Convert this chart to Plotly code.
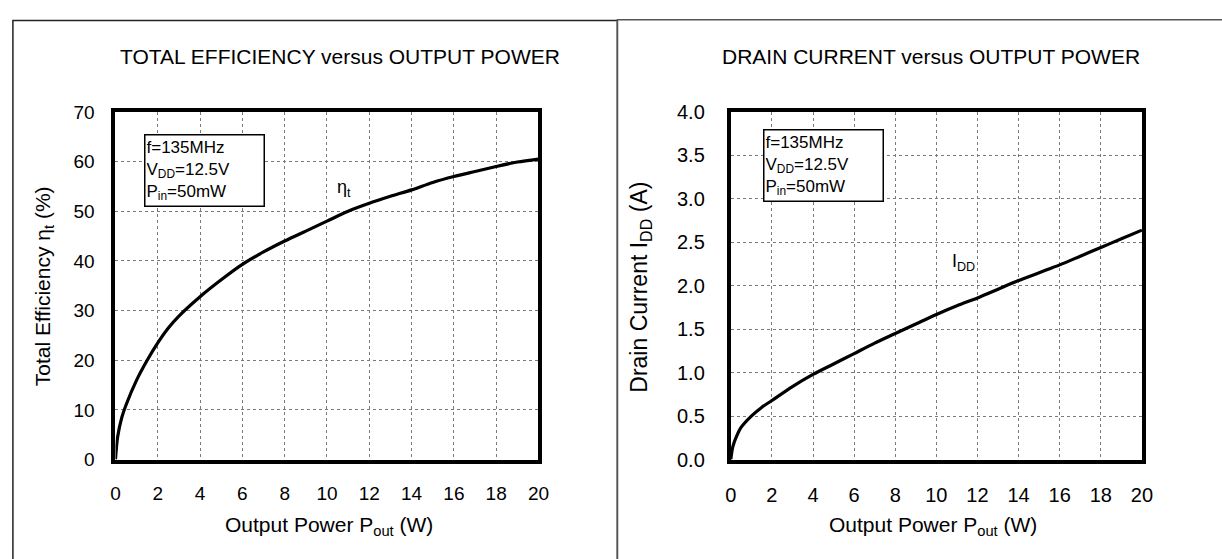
import plotly.graph_objects as go

# ---- data ----
pout_eff = [0, 0.1, 0.3, 0.5, 1, 1.5, 2, 2.5, 3, 4, 5, 6, 7, 8, 9, 10, 11, 12, 13, 14, 15, 16, 17, 18, 19, 20]
eff = [0, 4.5, 8.5, 11, 16, 20, 23.5, 26.5, 28.9, 32.8, 36.2, 39.3, 41.8, 44, 46, 48, 50, 51.6, 53, 54.3, 55.8, 57, 58, 59, 59.9, 60.5]

pout_idd = [0, 0.1, 0.3, 0.5, 1, 1.5, 2, 3, 4, 5, 6, 7, 8, 9, 10, 11, 12, 13, 14, 15, 16, 17, 18, 19, 20]
idd = [0, 0.15, 0.28, 0.37, 0.5, 0.6, 0.68, 0.84, 0.98, 1.1, 1.22, 1.34, 1.45, 1.56, 1.67, 1.77, 1.86, 1.96, 2.06, 2.15, 2.24, 2.34, 2.44, 2.54, 2.64]

x_ticks = [0, 2, 4, 6, 8, 10, 12, 14, 16, 18, 20]
eff_ticks = [0, 10, 20, 30, 40, 50, 60, 70]
idd_ticks = [0.0, 0.5, 1.0, 1.5, 2.0, 2.5, 3.0, 3.5, 4.0]

titles = ["TOTAL EFFICIENCY versus OUTPUT POWER", "DRAIN CURRENT versus OUTPUT POWER"]
x_title = "Output Power P<sub>out</sub> (W)"
y_titles = ["Total Efficiency η<sub>t</sub> (%)", "Drain Current I<sub>DD</sub> (A)"]
cond_text = "f=135MHz<br>V<sub>DD</sub>=12.5V<br>P<sub>in</sub>=50mW"

W, H = 1222, 559
FONT = "Liberation Sans, Arial, sans-serif"

def px(x):
    return x / W

def py(y):
    return 1 - y / H

fig = go.Figure()
fig.add_trace(go.Scatter(x=pout_eff, y=eff, mode="lines", line=dict(color="black", width=3.2, shape="spline", smoothing=0.8),
                         xaxis="x", yaxis="y", showlegend=False))
fig.add_trace(go.Scatter(x=pout_idd, y=idd, mode="lines", line=dict(color="black", width=3.2, shape="spline", smoothing=0.8),
                         xaxis="x2", yaxis="y2", showlegend=False))

def ax(size, standoff, **kw):
    d = dict(showgrid=True, gridcolor="#7a7a7a", gridwidth=1, griddash="dot",
             showline=True, linecolor="black", linewidth=4, mirror=True,
             zeroline=False, ticks="", ticklabelstandoff=standoff,
             tickfont=dict(family=FONT, size=size, color="black"))
    d.update(kw)
    return d

ylo, yhi = py(467), py(105)
fig.update_layout(
    width=W, height=H, margin=dict(l=0, r=0, t=0, b=0),
    paper_bgcolor="white", plot_bgcolor="white",
    xaxis=ax(19, 14, domain=[px(111), px(540)], range=[0, 20], tickvals=x_ticks, anchor="y"),
    yaxis=ax(19, 13, domain=[ylo, yhi], range=[0, 70], tickvals=eff_ticks, anchor="x"),
    xaxis2=ax(20, 14, domain=[px(735), px(1152)], range=[0, 20], tickvals=x_ticks, anchor="y2"),
    yaxis2=ax(20, 18, domain=[ylo, yhi], range=[0, 4], tickvals=idd_ticks, tickformat=".1f", anchor="x2"),
)

# panel frames
fig.add_shape(type="rect", xref="paper", yref="paper", x0=px(7), x1=px(620), y0=py(580), y1=py(10),
              line=dict(color="#222222", width=1.5), layer="below")
fig.add_shape(type="rect", xref="paper", yref="paper", x0=px(620), x1=px(1240), y0=py(580), y1=py(9),
              line=dict(color="#555555", width=1.5), layer="below")

def txt(text, x, y, size=21, **kw):
    d = dict(text=text, x=x, y=y, xref="paper", yref="paper", showarrow=False,
             xanchor="center", yanchor="middle",
             font=dict(family=FONT, size=size, color="black"))
    d.update(kw)
    return d

anns = []
anns.append(txt(titles[0], px(339), py(47)))
anns.append(txt(titles[1], px(938), py(47)))
anns.append(txt(x_title, px(328), py(536)))
anns.append(txt(x_title, px(940), py(536)))
anns.append(txt(y_titles[0], px(38), py(286), textangle=-90))
anns.append(txt(y_titles[1], px(644), py(288), size=23, textangle=-90))
box = dict(xanchor="left", yanchor="top", align="left", width=116, height=68, valign="middle",
           bordercolor="black", borderwidth=1.5, borderpad=1, bgcolor="white")
anns.append(txt(cond_text, px(140), py(128), size=17, **box))
anns.append(txt(cond_text, px(768), py(123), size=17, **box))
anns.append(dict(text="η<sub>t</sub>", x=10.8, y=54.5, xref="x", yref="y", showarrow=False,
                 font=dict(family=FONT, size=18, color="black")))
anns.append(dict(text="I<sub>DD</sub>", x=11.3, y=2.27, xref="x2", yref="y2", showarrow=False,
                 font=dict(family=FONT, size=18, color="black")))
fig.update_layout(annotations=anns)

fig.write_html("out.html")
